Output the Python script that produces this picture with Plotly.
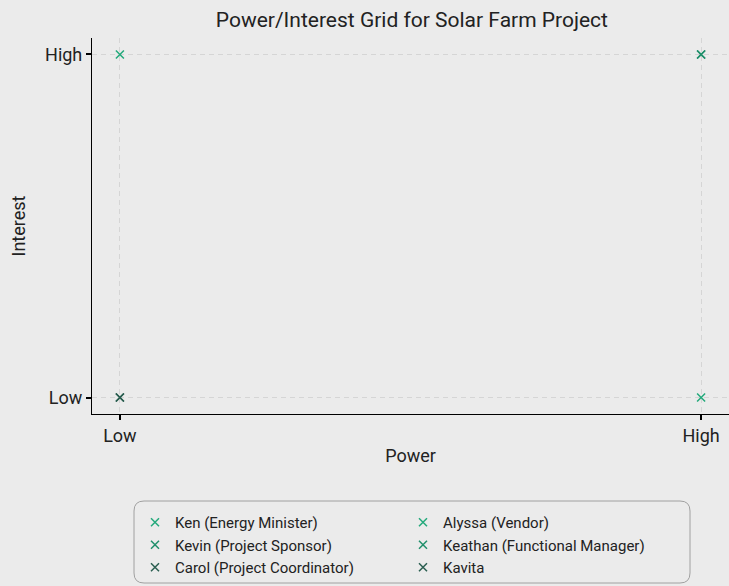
import plotly.graph_objects as go

# Stakeholders on the power/interest grid
stakeholders = ["Ken (Energy Minister)", "Kevin (Project Sponsor)", "Carol (Project Coordinator)",
                "Alyssa (Vendor)", "Keathan (Functional Manager)", "Kavita"]
power = ["High", "High", "Low", "Low", "High", "Low"]
interest = ["Low", "High", "Low", "High", "High", "Low"]
levels = ["Low", "High"]

colors = ["#23a97b", "#1f8f6b", "#2a5e50", "#23a97b", "#1f8f6b", "#2a5e50"]
FONT = "Roboto, sans-serif"

W, H = 729, 586
ML, MR, MT, MB = 92, 0, 38, 172
pw, ph = W - ML - MR, H - MT - MB

fig = go.Figure()
for i, name in enumerate(stakeholders):
    fig.add_trace(go.Scatter(
        x=[power[i]], y=[interest[i]],
        mode="markers",
        name=name,
        marker=dict(symbol="x-thin", size=8, line=dict(color=colors[i], width=1.5)),
        legend="legend" if i < 3 else "legend2",
    ))


# pixel -> paper helpers
def px(x):
    return (x - ML) / pw


def py(y):
    return (H - MB - y) / ph


# rounded legend frame
x0, x1, y0, y1, r = 134, 690, 501, 583, 10
rx, ry = r / pw, r / ph
X0, X1, Y0, Y1 = px(x0), px(x1), py(y0), py(y1)
path = (f"M{X0+rx},{Y0} L{X1-rx},{Y0} Q{X1},{Y0} {X1},{Y0-ry} L{X1},{Y1+ry} Q{X1},{Y1} {X1-rx},{Y1} "
        f"L{X0+rx},{Y1} Q{X0},{Y1} {X0},{Y1+ry} L{X0},{Y0-ry} Q{X0},{Y0} {X0+rx},{Y0} Z")
fig.add_shape(type="path", path=path, xref="paper", yref="paper",
              line=dict(color="#a0a0a0", width=1), fillcolor="rgba(0,0,0,0)", layer="above")

axis_common = dict(
    type="category", categoryorder="array", categoryarray=levels,
    range=[-0.048, 1.048], automargin=False,
    showgrid=True, gridcolor="#d5d5d5", griddash="5px,4px", gridwidth=1,
    zeroline=False, showline=True, linecolor="black", linewidth=1.2,
    ticks="outside", ticklen=5, tickcolor="black", tickwidth=2,
    tickfont=dict(size=18, color="#222"), tickangle=0,
)

legend_common = dict(
    font=dict(size=15, color="#222", family=FONT),
    bgcolor="rgba(0,0,0,0)", borderwidth=0,
    xref="paper", yref="paper", yanchor="top", xanchor="left",
    itemclick=False, tracegroupgap=0,
)

fig.update_layout(
    width=W, height=H,
    paper_bgcolor="#ebebeb", plot_bgcolor="#ebebeb",
    font=dict(family=FONT, color="#222"),
    title=dict(text="Power/Interest Grid for Solar Farm Project", x=0.565, xanchor="center",
               y=1 - 20 / H, yanchor="middle", font=dict(size=21, color="#222")),
    margin=dict(l=ML, r=MR, t=MT, b=MB, autoexpand=False),
    xaxis=dict(axis_common, title=dict(text="Power", font=dict(size=18), standoff=4)),
    yaxis=dict(axis_common, title=dict(text="Interest", font=dict(size=18), standoff=14)),
    legend=dict(legend_common, x=px(135), y=py(506)),
    legend2=dict(legend_common, x=px(403), y=py(506)),
)

fig.write_html("out.html", config={"displayModeBar": False},
               post_script="document.body.style.margin='0';document.body.style.overflow='hidden';")
